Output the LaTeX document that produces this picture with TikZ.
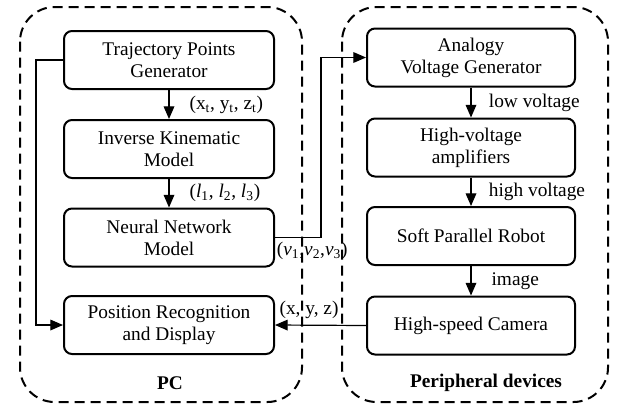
\documentclass[tikz,border=0pt]{standalone}
\usepackage{fontspec}
\setmainfont{Liberation Serif}
\usetikzlibrary{arrows.meta}

\tikzset{
  block/.style={draw, line width=1.5pt, rounded corners=6pt, minimum width=157.5pt,
    minimum height=43.5pt, align=center, inner sep=0pt},
  group/.style={line width=1.5pt, dash pattern=on 7.5pt off 4.5pt, rounded corners=26pt},
  link/.style={line width=0.9pt},
  tag/.style={inner sep=1pt}
}

\begin{document}
\begin{tikzpicture}[x=0.75pt,y=-0.75pt,>={Triangle[length=9.5pt,width=8pt]},
  font=\fontsize{14.5}{16.5}\selectfont]
  \useasboundingbox (0,0) rectangle (623,408);

  % groups
  \draw[group] (20,7) rectangle (302,402);
  \draw[group] (342,7) rectangle (608,402);
  \node[font=\fontsize{14.5}{16.5}\selectfont\bfseries] (pc) at (170,383) {PC};
  \node[font=\fontsize{14.5}{16.5}\selectfont\bfseries] (periph) at (486,383) {Peripheral devices};

  % PC blocks
  \node[block] (traj) at (169,60) {Trajectory Points\\Generator};
  \node[block] (ik) at (169,149) {Inverse Kinematic\\Model};
  \node[block] (nn) at (169,237.5) {Neural Network\\Model};
  \node[block] (pos) at (169,325) {Position Recognition\\and Display};

  % peripheral blocks
  \node[block, minimum width=156pt] (avg) at (471,57.5) {Analogy\\Voltage Generator};
  \node[block, minimum width=156pt] (hva) at (471,147.5) {High-voltage\\amplifiers};
  \node[block, minimum width=156pt] (spr) at (471,236) {Soft Parallel Robot};
  \node[block, minimum width=156pt] (cam) at (471,325.5) {High-speed Camera};

  \coordinate (lbus) at (36,0);
  \coordinate (rbus) at (321,0);

  % connectors
  \draw[link,->] (traj) -- (ik) node[midway, right=14pt, tag] {(x\textsubscript{t}, y\textsubscript{t}, z\textsubscript{t})};
  \draw[link,->] (ik) -- (nn) node[midway, right=14pt, tag] {(\textit{l}\textsubscript{1}, \textit{l}\textsubscript{2}, \textit{l}\textsubscript{3})};
  \draw[link,->] (nn.east) node[below right, tag, yshift=-2pt] {(\textit{v}\textsubscript{1},\textit{v}\textsubscript{2},\textit{v}\textsubscript{3})}
    -- (nn.east -| rbus) |- (avg.west);
  \draw[link,->] (traj.west) -- (traj.west -| lbus) |- (pos.west);
  \draw[link,->] (cam.west) -- (pos.east) node[pos=1, above right, tag, xshift=2pt, yshift=3pt] {(x, y, z)};

  \draw[link,->] (avg) -- (hva) node[midway, right=12pt, tag] {low voltage};
  \draw[link,->] (hva) -- (spr) node[midway, right=12pt, tag] {high voltage};
  \draw[link,->] (spr) -- (cam) node[midway, right=14pt, tag] {image};
\end{tikzpicture}
\end{document}
